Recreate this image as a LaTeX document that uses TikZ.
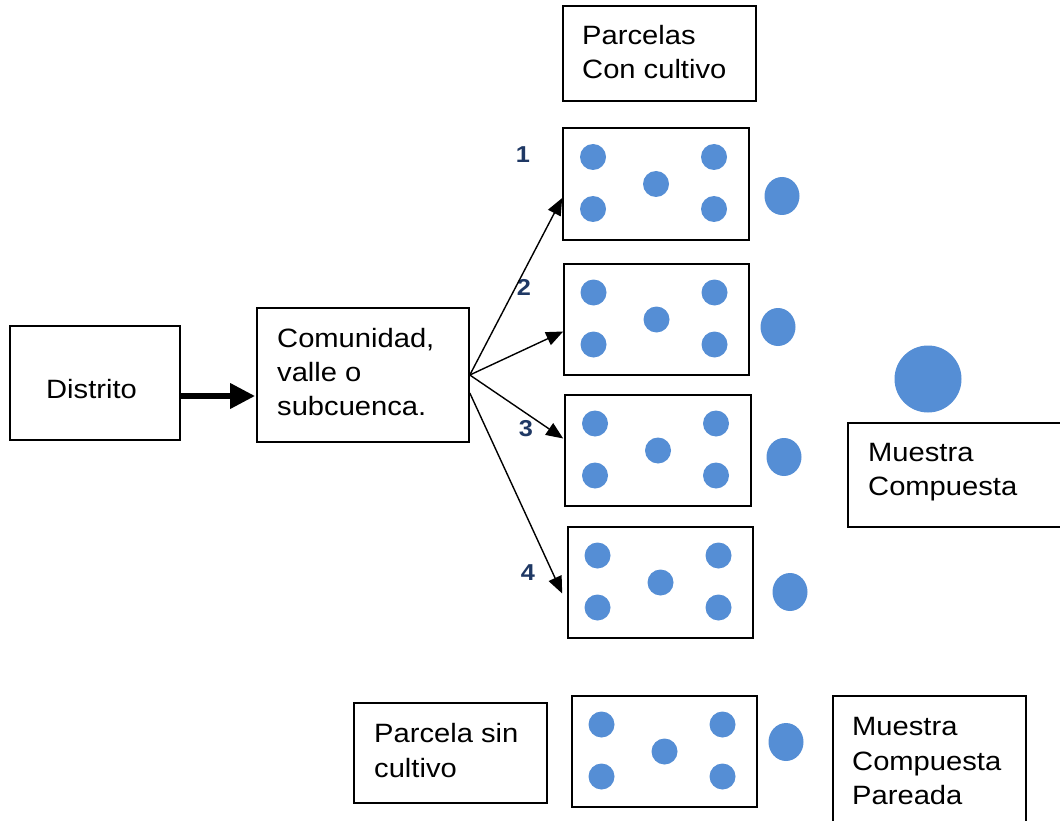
\documentclass[tikz,border=0pt]{standalone}
\usepackage{fontspec}
\setmainfont{Liberation Sans}[FakeStretch=1.1]
\usetikzlibrary{arrows.meta,calc}
\definecolor{dotc}{RGB}{85,142,213}
\definecolor{numc}{RGB}{31,56,100}
\newcommand{\txtfont}{\fontsize{26.5}{34}\selectfont}
\newcommand{\numfont}{\fontsize{23}{26}\selectfont\bfseries}
\tikzset{
  box/.style={draw, line width=1.6pt, inner sep=0pt},
  lbl/.style={anchor=base west, inner sep=0pt, font=\txtfont},
  num/.style={inner sep=0pt, font=\numfont, text=numc},
  thin arrow/.style={line width=1.4pt, -{Triangle[length=17pt 0 0,width=14pt 0 0]}},
  thick arrow/.style={line width=6.5pt, -{Triangle[length=25pt 0 0,width=24pt 0 0]}},
  smalldot/.style={fill=dotc},
}
\newcommand{\fivedots}[2]{%
  \fill[smalldot] (#1-63,#2-27) circle (13pt);
  \fill[smalldot] (#1+58,#2-27) circle (13pt);
  \fill[smalldot] (#1,#2) circle (13pt);
  \fill[smalldot] (#1-63,#2+25) circle (13pt);
  \fill[smalldot] (#1+58,#2+25) circle (13pt);}
\begin{document}
\begin{tikzpicture}[x=1pt,y=-1pt]
\useasboundingbox (0,0) rectangle (1060,821);
\clip (0,0) rectangle (1060,821);
\fill[white] (0,0) rectangle (1060,821);

% boxes
\node[box, minimum width=170pt, minimum height=114pt] (dist) at (95,383) {};
\node[box, minimum width=212pt, minimum height=134pt] (com) at (363,375) {};
\node[box, minimum width=193pt, minimum height=95pt] (head) at (659.5,53.5) {};
\node[box, minimum width=186pt, minimum height=112pt] (p1) at (656,184) {};
\node[box, minimum width=185pt, minimum height=111pt] (p2) at (656.5,319.5) {};
\node[box, minimum width=186pt, minimum height=111pt] (p3) at (658,450.5) {};
\node[box, minimum width=185pt, minimum height=111pt] (p4) at (660.5,582.5) {};
\node[box, minimum width=227pt, minimum height=104pt] (mc) at (961.5,475) {};
\node[box, minimum width=193pt, minimum height=100pt] (psc) at (450.5,753) {};
\node[box, minimum width=185pt, minimum height=111pt] (p5) at (664.5,751.5) {};
\node[box, minimum width=193pt, minimum height=144pt] (mcp) at (929.5,768) {};

% texts
\node[lbl] (tdist) at (46,398) {Distrito};
\node[lbl] (tcom1) at (277,347) {Comunidad,};
\node[lbl] (tcom2) at (277,381) {valle o};
\node[lbl] (tcom3) at (277,415) {subcuenca.};
\node[lbl] (thead1) at (582,45) {Parcelas};
\node[lbl] (thead2) at (582,79) {Con cultivo};
\node[lbl] (tmc1) at (868,461) {Muestra};
\node[lbl] (tmc2) at (868,495) {Compuesta};
\node[lbl] (tpsc1) at (374,742) {Parcela sin};
\node[lbl] (tpsc2) at (374,777) {cultivo};
\node[lbl] (tmcp1) at (852,735) {Muestra};
\node[lbl] (tmcp2) at (852,770) {Compuesta};
\node[lbl] (tmcp3) at (852,804) {Pareada};

% numbers
\node[num] (n1) at (523,155) {1};
\node[num] (n2) at (524,287) {2};
\node[num] (n3) at (526,429) {3};
\node[num] (n4) at (528,573) {4};

% dots
\fivedots{656}{184}
\fivedots{656.5}{319.5}
\fivedots{658}{450.5}
\fivedots{660.5}{582.5}
\fivedots{664.5}{751.5}
\fill[smalldot] (782,196) ellipse [x radius=17.5pt, y radius=19pt];
\fill[smalldot] (778,327) ellipse [x radius=17.5pt, y radius=19pt];
\fill[smalldot] (784,457) ellipse [x radius=17.5pt, y radius=19pt];
\fill[smalldot] (790,592) ellipse [x radius=17.5pt, y radius=19pt];
\fill[smalldot] (786,742) ellipse [x radius=17.5pt, y radius=19pt];
\fill[smalldot] (928,379) circle (33.5pt);

% connectors
\draw[thick arrow] ([yshift=-13pt]dist.east) -- ([yshift=-21pt,xshift=-1pt]com.west);
\draw[thin arrow] (com.east) -- ([yshift=-14pt]p1.west);
\draw[thin arrow] (com.east) -- ([yshift=-12pt]p2.west);
\draw[thin arrow] (com.east) -- ([yshift=12pt,xshift=-1pt]p3.west);
\draw[thin arrow] ([yshift=-18pt]com.east) -- ([yshift=-11pt,xshift=-5pt]p4.west);
\end{tikzpicture}
\end{document}
